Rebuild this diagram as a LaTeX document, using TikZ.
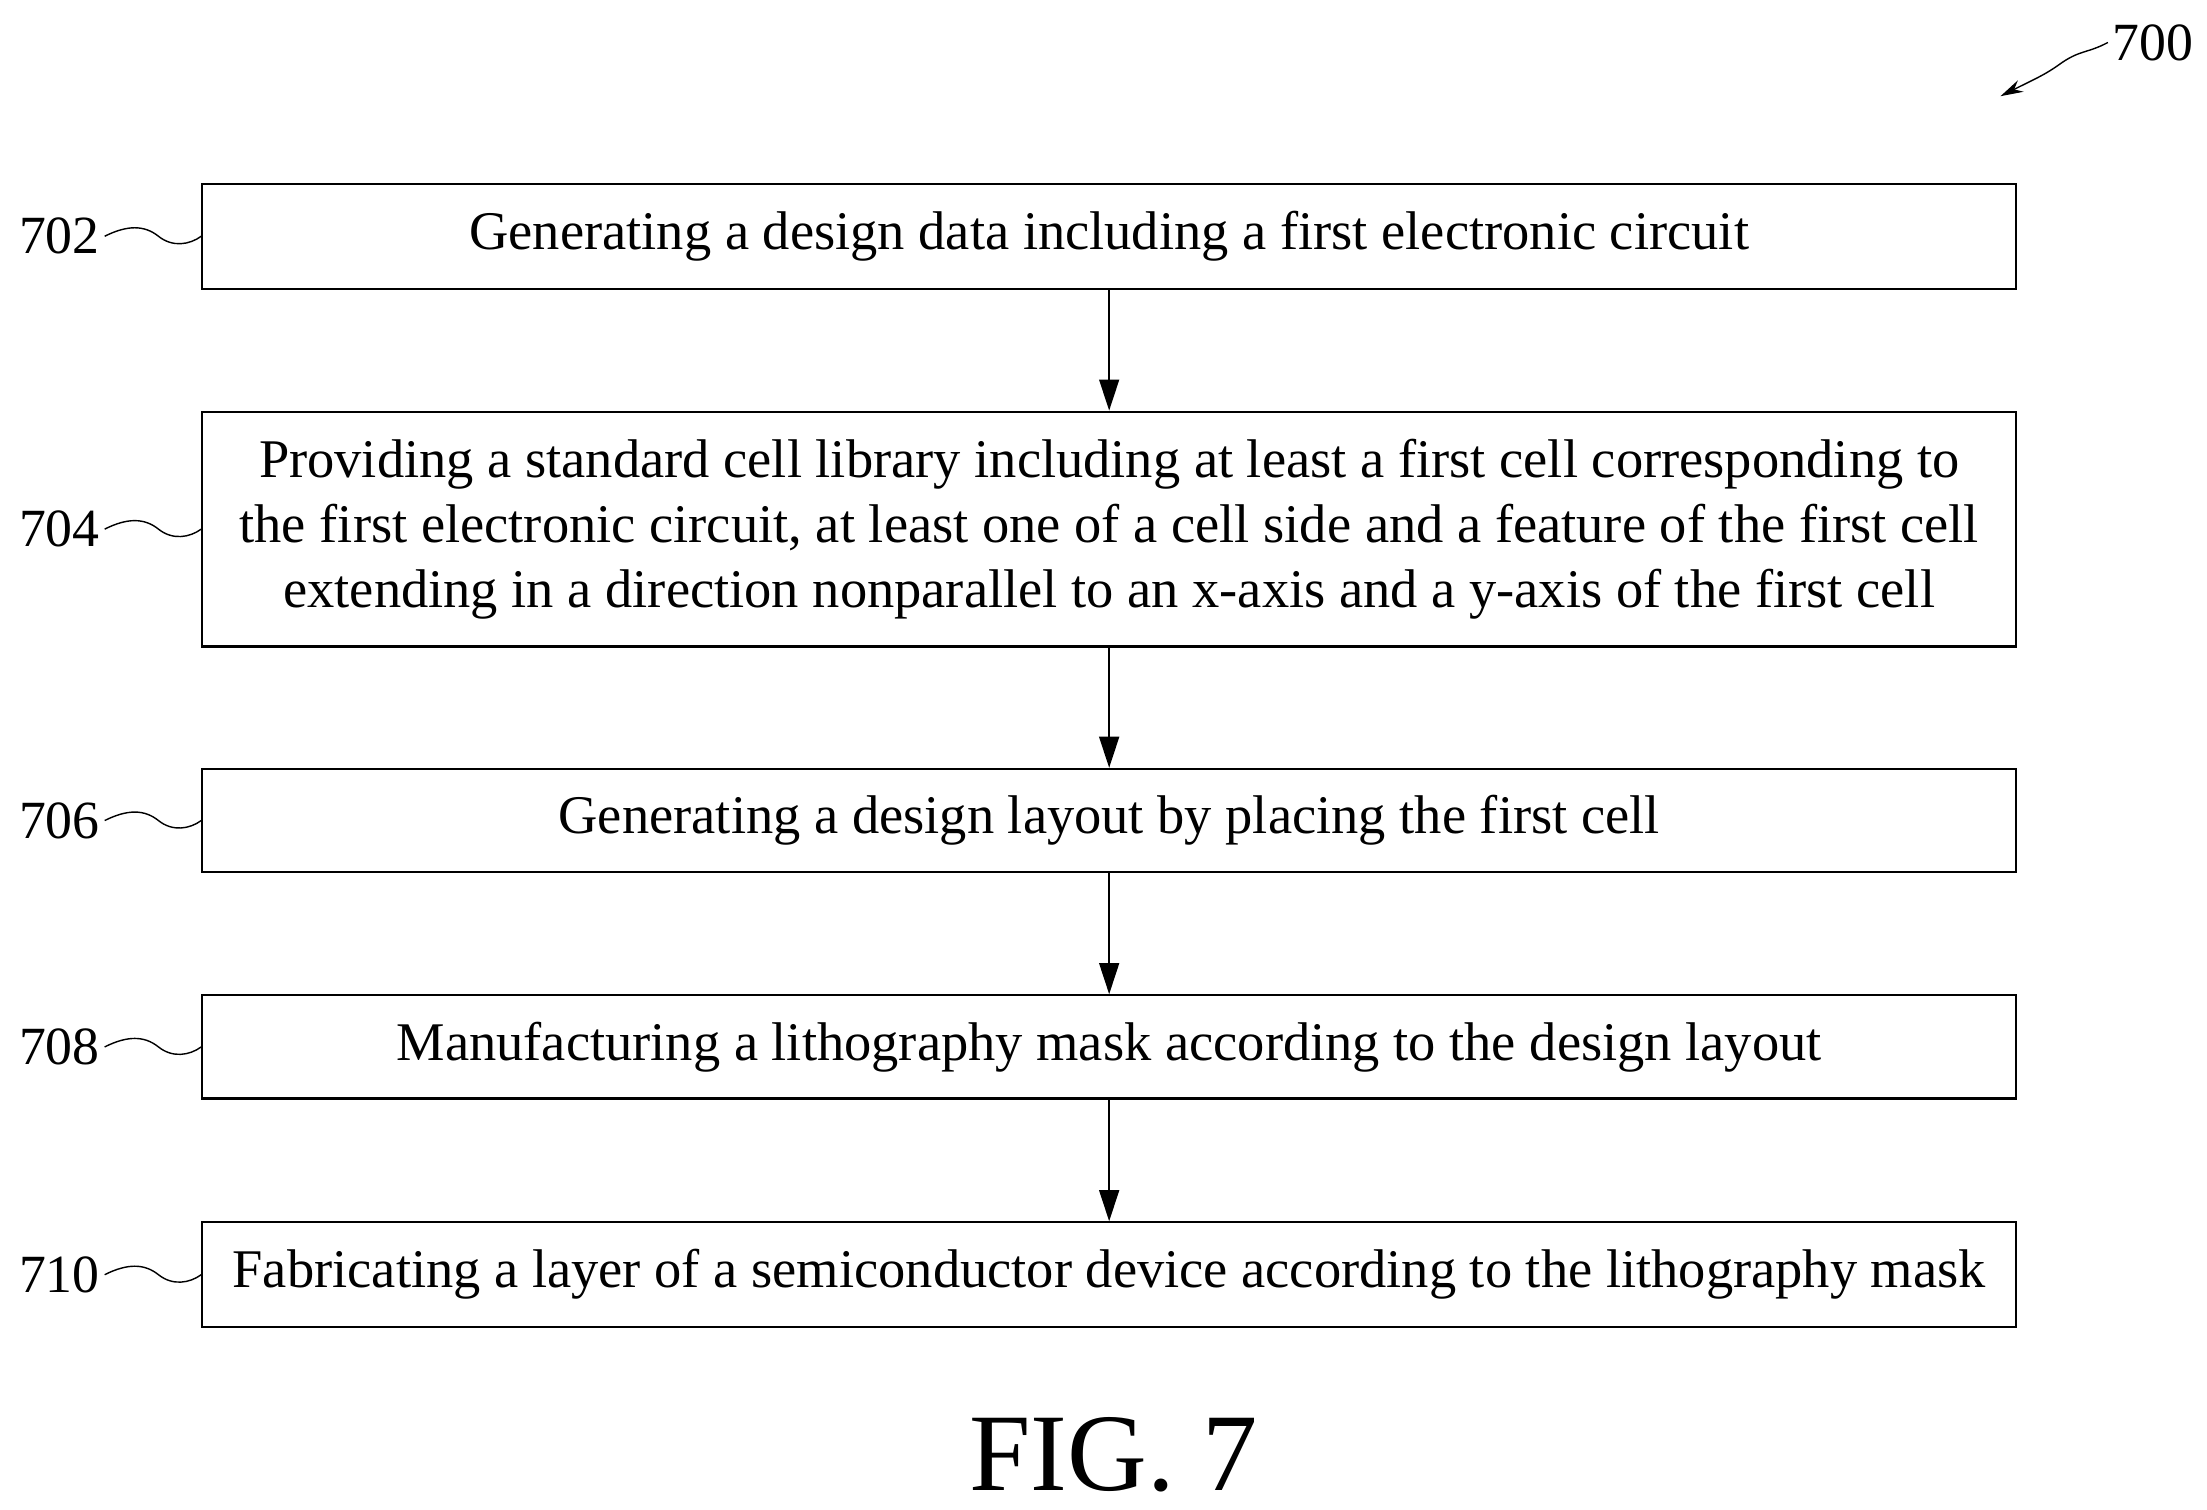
\documentclass[tikz,border=0pt]{standalone}
\usepackage{fontspec}
\setmainfont{Liberation Serif}
\usetikzlibrary{arrows.meta}
\begin{document}
\begin{tikzpicture}[x=1pt,y=-1pt,
  box/.style={draw,line width=1.5pt,minimum width=1282pt,inner sep=0pt,align=center,font=\fontsize{38.5}{46}\selectfont},
  lab/.style={font=\fontsize{38}{40}\selectfont,anchor=east},
  arr/.style={line width=1.5pt,-{Triangle[length=22pt,width=14pt]}},
  wav/.style={line width=1pt}]
\useasboundingbox (0,0) rectangle (1560,1067);
\node[box,minimum height=74pt] (b702) at (784,167) {Generating a design data including a first electronic circuit};
\node[box,minimum height=166pt] (b704) at (784,374) {Providing a standard cell library including at least a first cell corresponding to\\the first electronic circuit, at least one of a cell side and a feature of the first cell\\extending in a direction nonparallel to an x-axis and a y-axis of the first cell};
\node[box,minimum height=73pt] (b706) at (784,580) {Generating a design layout by placing the first cell};
\node[box,minimum height=73pt] (b708) at (784,740) {Manufacturing a lithography mask according to the design layout};
\node[box,minimum height=74pt] (b710) at (784,901) {Fabricating a layer of a semiconductor device according to the lithography mask};
\draw[arr] (b702) -- (b704);
\draw[arr] (b704) -- (b706);
\draw[arr] (b706) -- (b708);
\draw[arr] (b708) -- (b710);
\foreach \n/\y in {702/167,704/374,706/580,708/740,710/901}{
  \node[lab] (l\n) at (74,\y) {\n};
  \draw[wav] (l\n.east) .. controls (90,\y-8) and (102,\y-8) .. (112,\y) .. controls (122,\y+8) and (134,\y+6) .. (b\n.west|-0,\y);
}
\node[font=\fontsize{38}{40}\selectfont] (l700) at (1522,30) {700};
\coordinate (t700) at (1414,68);
\draw[line width=1pt,-{Stealth[length=16pt,width=9pt]}] (l700.west) .. controls (1475,38) and (1470,35) .. (1455,46) .. controls (1445,53) and (1440,55) .. (t700);
\node[font=\fontsize{78}{90}\selectfont] (fig) at (787,1028) {FIG. 7};
\end{tikzpicture}
\end{document}
